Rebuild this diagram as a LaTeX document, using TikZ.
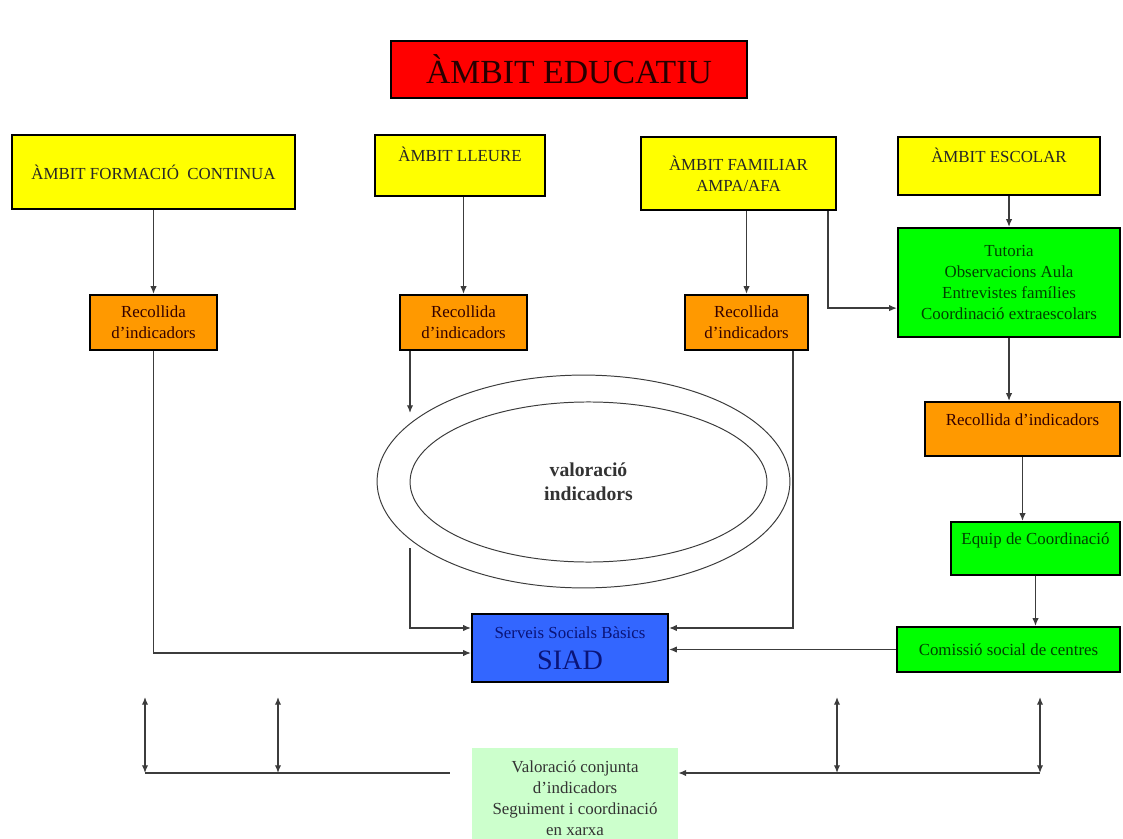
\documentclass[tikz,border=0pt]{standalone}
\usepackage{fontspec}
\setmainfont{Liberation Serif}
\usetikzlibrary{shapes.geometric,arrows.meta}

\definecolor{titlered}{RGB}{255,0,0}
\definecolor{boxyellow}{RGB}{255,255,0}
\definecolor{boxorange}{RGB}{255,153,0}
\definecolor{boxgreen}{RGB}{0,255,0}
\definecolor{boxblue}{RGB}{51,102,255}
\definecolor{palegreen}{RGB}{204,255,204}
\definecolor{linegray}{RGB}{60,60,60}
\definecolor{navytext}{RGB}{10,20,120}

\tikzstyle{box} = [draw=black,line width=1.5pt,rectangle,align=center,inner sep=1pt,font=\fontsize{12}{15}\selectfont]
\tikzstyle{ambit} = [box,fill=boxyellow,text=black!85]
\tikzstyle{recollida} = [box,fill=boxorange,text=black!80!red]
\tikzstyle{servei} = [box,fill=boxgreen,text=green!25!black]
\tikzstyle{uptext} = [text height=0.3cm,text depth=0.48cm]
\tikzstyle{link} = [draw=linegray,line width=0.9pt]

\begin{document}
\begin{tikzpicture}[x=0.025cm,y=-0.025cm,>={Latex[length=5.5pt,width=4.5pt]}]
	\useasboundingbox (0,0) rectangle (1123,839);
	\node (titol) [box,fill=titlered,line width=2pt,minimum width=8.9cm,minimum height=1.425cm,font=\fontsize{24}{28}\selectfont,text=black!85!red] at (569,69.5) {ÀMBIT EDUCATIU};
	% ambits
	\node (formacio) [ambit,minimum width=7.075cm,minimum height=1.85cm] at (153.5,172) {ÀMBIT FORMACIÓ \ CONTINUA};
	\node (lleure) [ambit,uptext,minimum width=4.25cm,minimum height=1.525cm] at (460,165.5) {ÀMBIT LLEURE};
	\node (familiar) [ambit,minimum width=4.875cm,minimum height=1.825cm] at (738.5,173.5) {ÀMBIT FAMILIAR\\AMPA/AFA};
	\node (escolar) [ambit,uptext,minimum width=5.05cm,minimum height=1.45cm] at (999,166) {ÀMBIT ESCOLAR};
	% recollida
	\node (rec1) [recollida,minimum width=3.175cm,minimum height=1.375cm] at (153.5,322.5) {Recollida\\d'indicadors};
	\node (rec2) [recollida,minimum width=3.175cm,minimum height=1.375cm] at (463.5,322.5) {Recollida\\d'indicadors};
	\node (rec3) [recollida,minimum width=3.075cm,minimum height=1.375cm] at (746.5,322.5) {Recollida\\d'indicadors};
	\node (tutoria) [servei,minimum width=5.55cm,minimum height=2.725cm,font=\fontsize{12}{14.7}\selectfont] at (1009,282.5) {Tutoria\\Observacions Aula\\Entrevistes famílies\\Coordinació extraescolars};
	\node (recR) [recollida,uptext,minimum width=4.875cm,minimum height=1.35cm] at (1022.5,429) {Recollida d'indicadors};
	\node (equip) [servei,uptext,minimum width=4.225cm,minimum height=1.325cm] at (1035.5,548.5) {Equip de Coordinació};
	\node (comissio) [servei,minimum width=5.575cm,minimum height=1.125cm] at (1008.5,649.5) {Comissió social de centres};
	% valoracio
	\node (valext) [ellipse,draw=linegray,line width=0.7pt,minimum width=10.32cm,minimum height=5.32cm] at (583.5,481.5) {};
	\node (valint) [ellipse,draw=linegray,line width=0.7pt,minimum width=8.92cm,minimum height=4cm,align=center,text=black!80,font=\fontsize{14}{17}\selectfont\bfseries] at (588.5,482) {valoració\\indicadors};
	\node (siad) [box,fill=boxblue,minimum width=4.9cm,minimum height=1.7cm,text=navytext,font=\fontsize{12}{22}\selectfont] at (570,648) {Serveis Socials Bàsics\\{\fontsize{20}{22}\selectfont SIAD}};
	\node (valor) [rectangle,fill=palegreen,align=center,minimum width=5.15cm,minimum height=2.5cm,text=black!80,font=\fontsize{12}{15}\selectfont] at (575,798) {Valoració conjunta\\d'indicadors\\Seguiment i coordinació\\en xarxa};
	\coordinate (e1) at (410,413);
	\coordinate (e2) at (410,548);
	\draw [->,link] (formacio) -- (rec1);
	\draw [->,link] (rec2.north |- lleure.south) -- (rec2.north);
	\draw [->,link] (rec3.north |- familiar.south) -- (rec3.north);
	\draw [->,link] ([xshift=-0.225cm]familiar.south east) |- ([yshift=-0.64cm]tutoria.west);
	\draw [->,link] (tutoria.north |- escolar.south) -- (tutoria.north);
	\draw [->,link] (tutoria.south) -- (tutoria.south |- recR.north);
	\draw [->,link] (recR.south) -- (recR.south |- equip.north);
	\draw [->,link] (equip.south) -- (equip.south |- comissio.north);
	\draw [->,link] (comissio.west) -- (comissio.west -| siad.east);
	\draw [->,link] (rec1.south) |- ([yshift=-0.125cm]siad.west);
	\draw [->,link] (rec2.south -| e1) -- (e1);
	\draw [->,link] (e2) |- ([yshift=0.5cm]siad.west);
	\draw [->,link] ([xshift=-0.4cm]rec3.south east) |- ([yshift=0.5cm]siad.east);
	% xarxa
	\coordinate (l1top) at (145,697);
	\coordinate (l1bot) at (145,773);
	\coordinate (l2top) at (278,697);
	\coordinate (l2bot) at (278,773);
	\coordinate (lend) at (450,773);
	\coordinate (r1top) at (837,697);
	\coordinate (r1bot) at (837,773);
	\coordinate (r2top) at (1040,697);
	\coordinate (r2bot) at (1040,773);
	\draw [link] (l1bot) -- (lend);
	\draw [<->,link] (l1top) -- (l1bot);
	\draw [<->,link] (l2top) -- (l2bot);
	\draw [<->,link] (r1top) -- (r1bot);
	\draw [<->,link] (r2top) -- (r2bot);
	\draw [->,link] (r2bot) -- (valor.east |- r2bot);
\end{tikzpicture}
\end{document}
